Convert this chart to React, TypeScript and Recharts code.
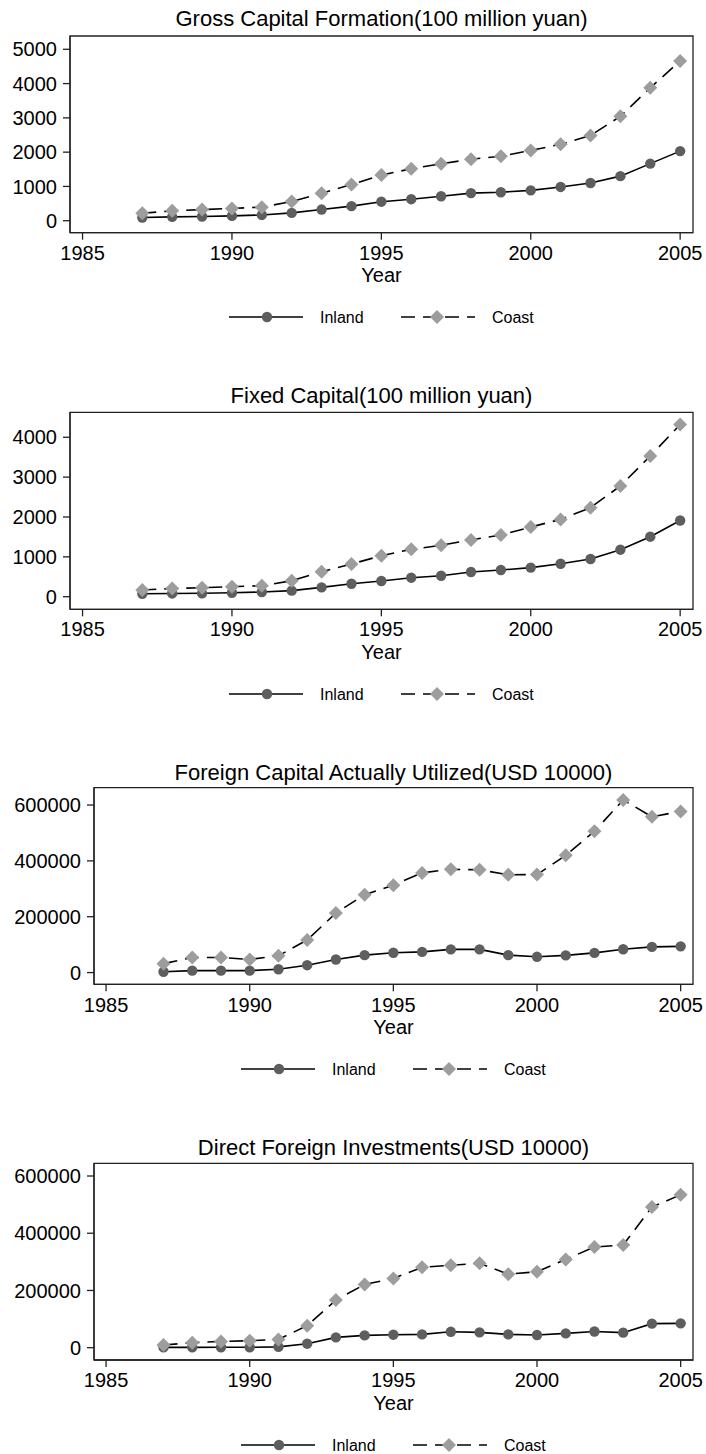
import React from 'react'
import { Label, Legend, Line, LineChart, ReferenceArea, XAxis, YAxis } from 'recharts'

const years = [1987, 1988, 1989, 1990, 1991, 1992, 1993, 1994, 1995, 1996, 1997, 1998, 1999, 2000, 2001, 2002, 2003, 2004, 2005]

const grossInland = [95, 112, 122, 140, 168, 228, 325, 425, 555, 628, 712, 805, 830, 885, 985, 1100, 1300, 1665, 2030]
const grossCoast = [218, 288, 325, 358, 395, 560, 800, 1055, 1330, 1515, 1660, 1795, 1880, 2050, 2230, 2485, 3045, 3875, 4660]

const fixedInland = [75, 82, 85, 100, 118, 152, 234, 326, 393, 477, 527, 619, 669, 730, 828, 946, 1180, 1506, 1912]
const fixedCoast = [167, 208, 226, 250, 276, 400, 628, 820, 1029, 1188, 1289, 1425, 1548, 1748, 1940, 2234, 2780, 3530, 4320]

const foreignInland = [3000, 7000, 7000, 7000, 12000, 26500, 47000, 62500, 71000, 74000, 83000, 83000, 62500, 56500, 61500, 70500, 83500, 92000, 94000]
const foreignCoast = [32000, 54000, 54000, 47000, 60000, 117000, 213000, 279000, 313000, 357000, 370000, 368000, 350000, 351000, 420000, 506000, 618000, 558000, 577000]

const directInland = [1000, 1200, 1500, 1500, 3000, 14000, 36000, 43000, 45500, 46500, 55500, 53500, 46500, 44500, 50000, 56500, 52500, 84000, 85000]
const directCoast = [9300, 17500, 22000, 24500, 29000, 77000, 166500, 221000, 242000, 281000, 288000, 295000, 257000, 265500, 308500, 352000, 359000, 491500, 534500]

const xTicks = [1985, 1990, 1995, 2000, 2005]
const grossTicks = [0, 1000, 2000, 3000, 4000, 5000]
const fixedTicks = [0, 1000, 2000, 3000, 4000]
const usdTicks = [0, 200000, 400000, 600000]

const FONT = '"Liberation Sans", Arial, Helvetica, sans-serif'
const FRAME = '#222'
const INLAND_FILL = '#5e5e5e'
const COAST_FILL = '#9d9d9d'
const X_DOMAIN = [1984.58, 2005.43]

const CircleDot = (props: any) => {
  const { cx, cy, index } = props
  if (cx == null || cy == null) return <g key={index} />
  return <circle key={index} cx={cx} cy={cy} r={5.2} fill={INLAND_FILL} />
}

const DiamondDot = (props: any) => {
  const { cx, cy, index } = props
  if (cx == null || cy == null) return <g key={index} />
  const s = 7
  return (
    <polygon
      key={index}
      points={`${cx},${cy - s} ${cx + s},${cy} ${cx},${cy + s} ${cx - s},${cy}`}
      fill={COAST_FILL}
    />
  )
}

// stata-style legend: line with marker in the middle, then the label
const LegendRow = ({ h }: { h: number }) => (
  <div style={{ height: h, display: 'flex', alignItems: 'flex-end', justifyContent: 'center' }}>
    <svg width={306} height={20} style={{ display: 'block' }}>
      <line x1={0} y1={10} x2={74} y2={10} stroke="#000" strokeWidth={1.6} />
      <circle cx={38} cy={10} r={5.2} fill={INLAND_FILL} />
      <text x={91} y={15.7} fontSize={16} fontFamily={FONT} fill="#000">Inland</text>
      <line x1={172} y1={10} x2={246} y2={10} stroke="#000" strokeWidth={1.6} strokeDasharray="14 8" />
      <polygon points="208,3 215,10 208,17 201,10" fill={COAST_FILL} />
      <text x={263} y={15.7} fontSize={16} fontFamily={FONT} fill="#000">Coast</text>
    </svg>
  </div>
)

type PanelProps = {
  title: string
  top: number
  plotTop: number
  plotBottom: number
  legendY: number
  titleOffset: number
  yWidth: number
  yDomain: number[]
  yTicks: number[]
  inland: number[]
  coast: number[]
}

function Panel({ title, top, plotTop, plotBottom, legendY, titleOffset, yWidth, yDomain, yTicks, inland, coast }: PanelProps) {
  const data = years.map((y, i) => ({ year: y, inland: inland[i], coast: coast[i] }))
  const width = 706
  const right = 13
  const height = legendY + 10 - top
  const xHeight = 30
  const legendH = height - (plotBottom - top) - xHeight
  const tickStyle = { fill: '#000', fontSize: 20, fontFamily: FONT }

  return (
    <div style={{ position: 'absolute', left: 0, top }}>
      <LineChart width={width} height={height} data={data} margin={{ top: plotTop - top, right, bottom: 0, left: 0 }}>
        <XAxis
          dataKey="year"
          type="number"
          domain={X_DOMAIN}
          ticks={xTicks}
          height={xHeight}
          tickSize={7}
          tickMargin={6}
          tick={tickStyle}
          stroke={FRAME}
          strokeWidth={1.3}
          tickLine={{ stroke: FRAME }}
        >
          <Label value="Year" position="bottom" offset={5.3} style={{ fill: '#000', fontSize: 20, fontFamily: FONT }} />
        </XAxis>
        <YAxis
          type="number"
          domain={yDomain}
          ticks={yTicks}
          width={yWidth}
          tickSize={7}
          tickMargin={6}
          tick={tickStyle}
          stroke={FRAME}
          strokeWidth={1.3}
          interval={0}
        />
        {/* plot region outline + graph title */}
        <ReferenceArea
          x1={X_DOMAIN[0]}
          x2={X_DOMAIN[1]}
          y1={yDomain[0]}
          y2={yDomain[1]}
          fill="none"
          fillOpacity={0}
          stroke={FRAME}
          strokeWidth={1.3}
          ifOverflow="visible"
        >
          <Label value={title} position="top" offset={titleOffset} style={{ fill: '#000', fontSize: 22, fontFamily: FONT }} />
        </ReferenceArea>
        <Legend
          verticalAlign="bottom"
          content={() => <LegendRow h={legendH} />}
          wrapperStyle={{ left: yWidth, width: width - right - yWidth, bottom: 0 }}
        />
        <Line
          type="linear"
          dataKey="inland"
          name="Inland"
          stroke="#000"
          strokeWidth={1.6}
          dot={CircleDot}
          activeDot={false}
          isAnimationActive={false}
        />
        <Line
          type="linear"
          dataKey="coast"
          name="Coast"
          stroke="#000"
          strokeWidth={1.6}
          strokeDasharray="14 8"
          dot={DiamondDot}
          activeDot={false}
          isAnimationActive={false}
        />
      </LineChart>
    </div>
  )
}

export default function App() {
  return (
    <div style={{ position: 'absolute', left: 0, top: 0, width: 706, height: 1454, background: '#fff', overflow: 'hidden' }}>
      <Panel
        title="Gross Capital Formation(100 million yuan)"
        top={0}
        plotTop={36}
        plotBottom={232.7}
        legendY={317}
        titleOffset={10}
        yWidth={70}
        yDomain={[-350, 5388]}
        yTicks={grossTicks}
        inland={grossInland}
        coast={grossCoast}
      />
      <Panel
        title="Fixed Capital(100 million yuan)"
        top={376}
        plotTop={412.3}
        plotBottom={609.3}
        legendY={693.6}
        titleOffset={9.3}
        yWidth={70}
        yDomain={[-316, 4627]}
        yTicks={fixedTicks}
        inland={fixedInland}
        coast={fixedCoast}
      />
      <Panel
        title="Foreign Capital Actually Utilized(USD 10000)"
        top={752}
        plotTop={787.7}
        plotBottom={984.3}
        legendY={1069}
        titleOffset={8}
        yWidth={94}
        yDomain={[-42000, 662000]}
        yTicks={usdTicks}
        inland={foreignInland}
        coast={foreignCoast}
      />
      <Panel
        title="Direct Foreign Investments(USD 10000)"
        top={1127}
        plotTop={1163.3}
        plotBottom={1360}
        legendY={1445}
        titleOffset={8.6}
        yWidth={94}
        yDomain={[-43000, 644400]}
        yTicks={usdTicks}
        inland={directInland}
        coast={directCoast}
      />
    </div>
  )
}
